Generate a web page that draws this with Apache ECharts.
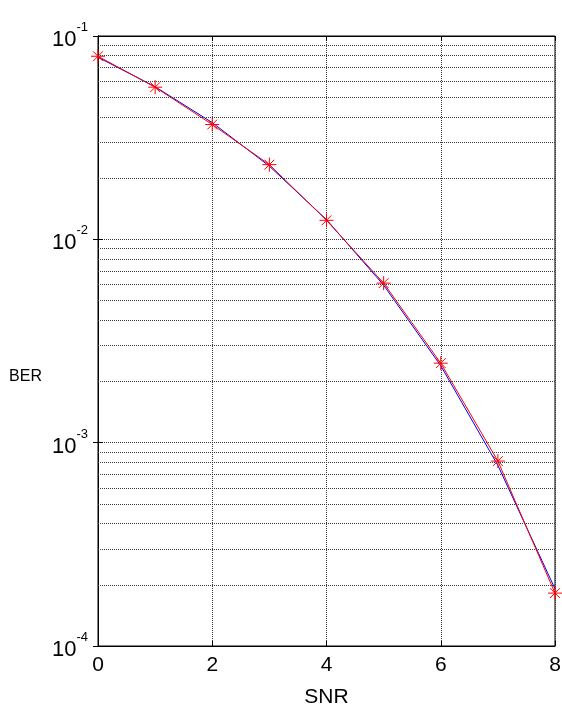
<!DOCTYPE html>
<html>
<head>
<meta charset="utf-8">
<script src="https://cdn.jsdelivr.net/npm/echarts@6/dist/echarts.min.js"></script>
<style>
html,body{margin:0;padding:0;background:#fff;}
#c{width:562px;height:705px;}
</style>
</head>
<body>
<div id="c"></div>
<script>
// ---- data ----
const snr = [0, 1, 2, 3, 4, 5, 6, 7, 8];
const berTheory = [0.0786, 0.0563, 0.0375, 0.0229, 0.0125, 0.00595, 0.00239, 0.000773, 0.000191];
const berSim = [0.0795, 0.0560, 0.0367, 0.0233, 0.0124, 0.00609, 0.00246, 0.000812, 0.000182];
const xTicks = [0, 2, 4, 6, 8];
const yDecades = [1e-4, 1e-3, 1e-2, 1e-1];
const yMinorGrid = [
  2e-4, 3e-4, 4e-4, 5e-4, 6e-4, 7e-4, 8e-4, 9e-4,
  2e-3, 3e-3, 4e-3, 5e-3, 6e-3, 7e-3, 8e-3, 9e-3,
  2e-2, 3e-2, 4e-2, 5e-2, 6e-2, 7e-2, 8e-2, 9e-2
];
const xName = 'SNR';
const yName = 'BER';

const FONT = '"Liberation Sans", Arial, sans-serif';
const starPath = 'path://M0,-10L0,10M-10,0L10,0M-7,-7L7,7M-7,7L7,-7';
const gridStyle = {color: '#3a3a3a', type: [1, 1], width: 1};
const xMin = xTicks[0], xMax = xTicks[xTicks.length - 1];

const chart = echarts.init(document.getElementById('c'), null, {renderer: 'canvas'});
chart.setOption({
  animation: false,
  backgroundColor: '#fff',
  grid: {left: 98, right: 7, top: 36, bottom: 59, containLabel: false, outerBoundsMode: 'none',
         show: true, borderColor: '#000', borderWidth: 1, backgroundColor: 'transparent'},
  xAxis: [{
    type: 'value', min: xMin, max: xMax, interval: 2,
    name: xName, nameLocation: 'middle', nameGap: 41,
    nameTextStyle: {fontFamily: FONT, fontSize: 21, color: '#000'},
    axisLine: {show: true, onZero: false, lineStyle: {color: '#000', width: 1}},
    axisTick: {show: true, inside: true, length: 5, lineStyle: {color: '#000'}},
    axisLabel: {fontFamily: FONT, fontSize: 21, color: '#000', margin: 9},
    splitLine: {show: true, lineStyle: gridStyle}
  }, {
    type: 'value', position: 'top', min: xMin, max: xMax, interval: 2,
    axisLine: {show: true, lineStyle: {color: '#000'}},
    axisTick: {show: true, inside: true, length: 5, lineStyle: {color: '#000'}},
    axisLabel: {show: false}, splitLine: {show: false}
  }],
  yAxis: [{
    type: 'log', logBase: 10, min: yDecades[0], max: yDecades[yDecades.length - 1],
    name: '{a|' + yName + '}', nameLocation: 'middle', nameGap: 56, nameRotate: 0,
    nameTextStyle: {
      fontFamily: FONT, fontSize: 16, color: '#000',
      rich: {a: {fontFamily: FONT, fontSize: 16, color: '#000', verticalAlign: 'bottom', padding: [72, 0, 0, 0]}}
    },
    axisLine: {show: true, onZero: false, lineStyle: {color: '#000', width: 1}},
    axisTick: {show: true, inside: true, length: 5, lineStyle: {color: '#000'}},
    axisLabel: {
      margin: 10,
      formatter: function (v) {
        const e = Math.round(Math.log10(v));
        return '{b|10}{s|' + e + '}';
      },
      rich: {
        b: {fontFamily: FONT, fontSize: 22, color: '#000', verticalAlign: 'bottom', lineHeight: 24},
        s: {fontFamily: FONT, fontSize: 13, color: '#000', verticalAlign: 'bottom', padding: [0, 0, 17, 0]}
      }
    },
    splitLine: {show: true, lineStyle: gridStyle}
  }, {
    type: 'log', logBase: 10, position: 'right', min: yDecades[0], max: yDecades[yDecades.length - 1],
    axisLine: {show: true, lineStyle: {color: '#000'}},
    axisTick: {show: true, inside: true, length: 5, lineStyle: {color: '#000'}},
    axisLabel: {show: false}, splitLine: {show: false}
  }],
  series: [{
    type: 'line', data: [], z: 1, silent: true,
    markLine: {
      silent: true, symbol: 'none', animation: false, precision: 10,
      label: {show: false},
      lineStyle: gridStyle,
      data: yMinorGrid.map(v => [{coord: [xMin, v]}, {coord: [xMax, v]}])
    }
  }, {
    name: 'theory', type: 'line', z: 3,
    data: snr.map((x, i) => [x, berTheory[i]]),
    showSymbol: false, symbol: 'none',
    lineStyle: {color: '#0000ff', width: 1}
  }, {
    name: 'sim', type: 'line', z: 4,
    data: snr.map((x, i) => [x, berSim[i]]),
    symbol: starPath, symbolSize: 14, symbolKeepAspect: true,
    itemStyle: {color: 'rgba(0,0,0,0)', borderColor: '#ff0000', borderWidth: 1},
    lineStyle: {color: '#ff0000', width: 1}
  }]
});
</script>
</body>
</html>
